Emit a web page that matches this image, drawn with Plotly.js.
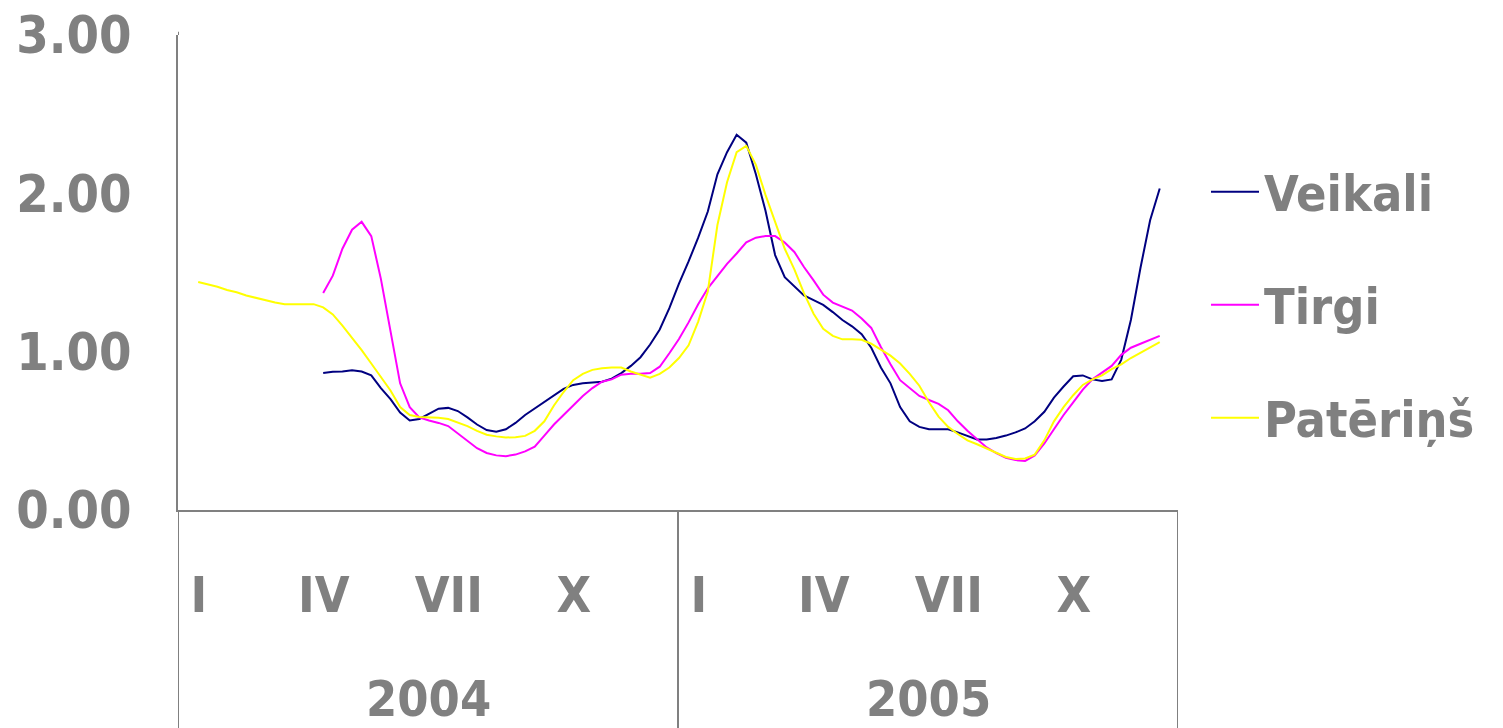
<!DOCTYPE html>
<html>
<head>
<meta charset="utf-8">
<script src="https://cdn.plot.ly/plotly-3.0.1.min.js"></script>
<style>
  html, body { margin: 0; padding: 0; background: #fff; }
  #chart { width: 1503px; height: 728px; }
</style>
</head>
<body>
<div id="chart"></div>
<script>
// nedēļas dati, sākot ar 2004. gada sākumu (x = nedēļas numurs)
var veikali = [
  null, null, null, null, null, null, null, null, null, null, null, null, null,
  0.865, 0.873, 0.875, 0.883, 0.875, 0.85, 0.77, 0.70, 0.615, 0.565,
  0.575, 0.61, 0.64, 0.645, 0.625, 0.585, 0.54, 0.505, 0.495, 0.51,
  0.55, 0.60, 0.64, 0.68, 0.72, 0.765, 0.79, 0.80, 0.805, 0.81,
  0.83, 0.865, 0.91, 0.965, 1.045, 1.14, 1.275, 1.43, 1.57, 1.72,
  1.885, 2.12, 2.26, 2.37, 2.32, 2.12, 1.89, 1.61, 1.47, 1.415,
  1.355, 1.325, 1.295, 1.25, 1.20, 1.16, 1.11, 1.025, 0.90, 0.80,
  0.65, 0.56, 0.525, 0.51, 0.51, 0.51, 0.49, 0.47, 0.446, 0.446,
  0.455, 0.47, 0.49, 0.515, 0.56, 0.62, 0.71, 0.78, 0.845, 0.85,
  0.825, 0.815, 0.825, 0.95, 1.20, 1.53, 1.83, 2.03
];
var tirgi = [
  null, null, null, null, null, null, null, null, null, null, null, null, null,
  1.37, 1.48, 1.65, 1.77, 1.82, 1.73, 1.46, 1.13, 0.80, 0.65,
  0.585, 0.565, 0.55, 0.53, 0.485, 0.435, 0.39, 0.36, 0.345, 0.34,
  0.35, 0.37, 0.40, 0.47, 0.54, 0.60, 0.66, 0.72, 0.77, 0.81,
  0.825, 0.855, 0.86, 0.86, 0.865, 0.905, 0.99, 1.08, 1.185, 1.30,
  1.40, 1.48, 1.555, 1.62, 1.69, 1.72, 1.73, 1.73, 1.69, 1.63,
  1.535, 1.45, 1.36, 1.31, 1.285, 1.26, 1.21, 1.15, 1.03, 0.92,
  0.82, 0.77, 0.72, 0.695, 0.67, 0.63, 0.56, 0.50, 0.445, 0.395,
  0.36, 0.33, 0.315, 0.31, 0.345, 0.42, 0.51, 0.60, 0.68, 0.76,
  0.825, 0.87, 0.91, 0.98, 1.025, 1.05, 1.075, 1.10
];
var paterins = [
  1.44, 1.425, 1.41, 1.39, 1.375, 1.355, 1.34, 1.325, 1.31, 1.30,
  1.30, 1.30, 1.30, 1.28, 1.235, 1.165, 1.09, 1.01, 0.925, 0.84,
  0.755, 0.65, 0.60, 0.588, 0.587, 0.583, 0.575, 0.555, 0.53, 0.50,
  0.475, 0.465, 0.458, 0.46, 0.468, 0.50, 0.56, 0.66, 0.745, 0.82,
  0.86, 0.885, 0.895, 0.90, 0.90, 0.875, 0.855, 0.836, 0.86, 0.90,
  0.96, 1.04, 1.19, 1.38, 1.80, 2.07, 2.26, 2.30, 2.18, 1.99,
  1.82, 1.65, 1.52, 1.37, 1.24, 1.145, 1.10, 1.078, 1.078, 1.075,
  1.05, 1.01, 0.975, 0.925, 0.86, 0.785, 0.68, 0.59, 0.525, 0.48,
  0.44, 0.415, 0.39, 0.36, 0.335, 0.322, 0.325, 0.35, 0.44, 0.56,
  0.65, 0.725, 0.79, 0.825, 0.85, 0.89, 0.92, 0.96, 0.995, 1.03, 1.06
];

var monthTicks = [2.17, 15.17, 28.17, 41.17, 54.17, 67.17, 80.17, 93.17];
var monthLabels = ['I', 'IV', 'VII', 'X', 'I', 'IV', 'VII', 'X'];
var years = ['2004', '2005'];
var yearCenters = [26, 78];

var grey = '#808080';
var fontFam = '"DejaVu Sans Condensed", "DejaVu Sans", Verdana, sans-serif';

function makeTrace(name, y, color, group) {
    return {
        name: name,
        y: y,
        x0: 2.1,
        dx: 1,
        type: 'scatter',
        mode: 'lines',
        legendgroup: group,
        line: {color: color, width: 2},
        hoverinfo: 'skip'
    };
}

var data = [
    makeTrace('Veikali', veikali, '#000080', 'a'),
    makeTrace('Tirgi', tirgi, '#FF00FF', 'b'),
    makeTrace('Patēriņš', paterins, '#FFFF00', 'c')
];

var annotations = years.map(function(yr, i) {
    return {
        text: yr, x: yearCenters[i], xref: 'x', y: -0.398, yref: 'paper',
        showarrow: false, yanchor: 'middle',
        font: {family: fontFam, size: 50, color: grey, weight: 'bold'}
    };
});

// vertikālās līnijas zem ass (gadu robežas)
var shapes = [0, 52, 104].map(function(xv) {
    return {
        type: 'line', xref: 'x', yref: 'paper',
        x0: xv, x1: xv, y0: -0.47, y1: 0,
        line: {color: grey, width: 2}
    };
});
// ass līnija nedaudz virs zīmējuma laukuma
shapes.push({
    type: 'line', xref: 'x', yref: 'paper',
    x0: 0, x1: 0, y0: 1, y1: 1.007,
    line: {color: grey, width: 2}
});

var layout = {
    width: 1503,
    height: 728,
    margin: {l: 178, r: 325, t: 35, b: 218},
    paper_bgcolor: '#fff',
    plot_bgcolor: '#fff',
    showlegend: true,
    legend: {
        x: 1.028, xanchor: 'left',
        y: 0.432, yanchor: 'middle',
        traceorder: 'grouped',
        tracegroupgap: 45,
        itemwidth: 48,
        font: {family: fontFam, size: 50, color: grey, weight: 'bold'},
        bgcolor: 'rgba(0,0,0,0)'
    },
    xaxis: {
        range: [0, 104],
        showgrid: false,
        zeroline: false,
        showline: true,
        linecolor: grey,
        linewidth: 2,
        ticks: '',
        tickvals: monthTicks,
        ticktext: monthLabels,
        tickangle: 0,
        ticklabelstandoff: 40,
        tickfont: {family: fontFam, size: 50, color: grey, weight: 'bold'}
    },
    yaxis: {
        range: [0, 3],
        dtick: 1,
        tick0: 0,
        tickformat: '.2f',
        showgrid: false,
        zeroline: false,
        showline: true,
        linecolor: grey,
        linewidth: 2,
        ticks: '',
        ticklabelstandoff: 34,
        tickfont: {family: fontFam, size: 52, color: grey, weight: 'bold'}
    },
    annotations: annotations,
    shapes: shapes
};

Plotly.newPlot('chart', data, layout, {staticPlot: true});
</script>
</body>
</html>
